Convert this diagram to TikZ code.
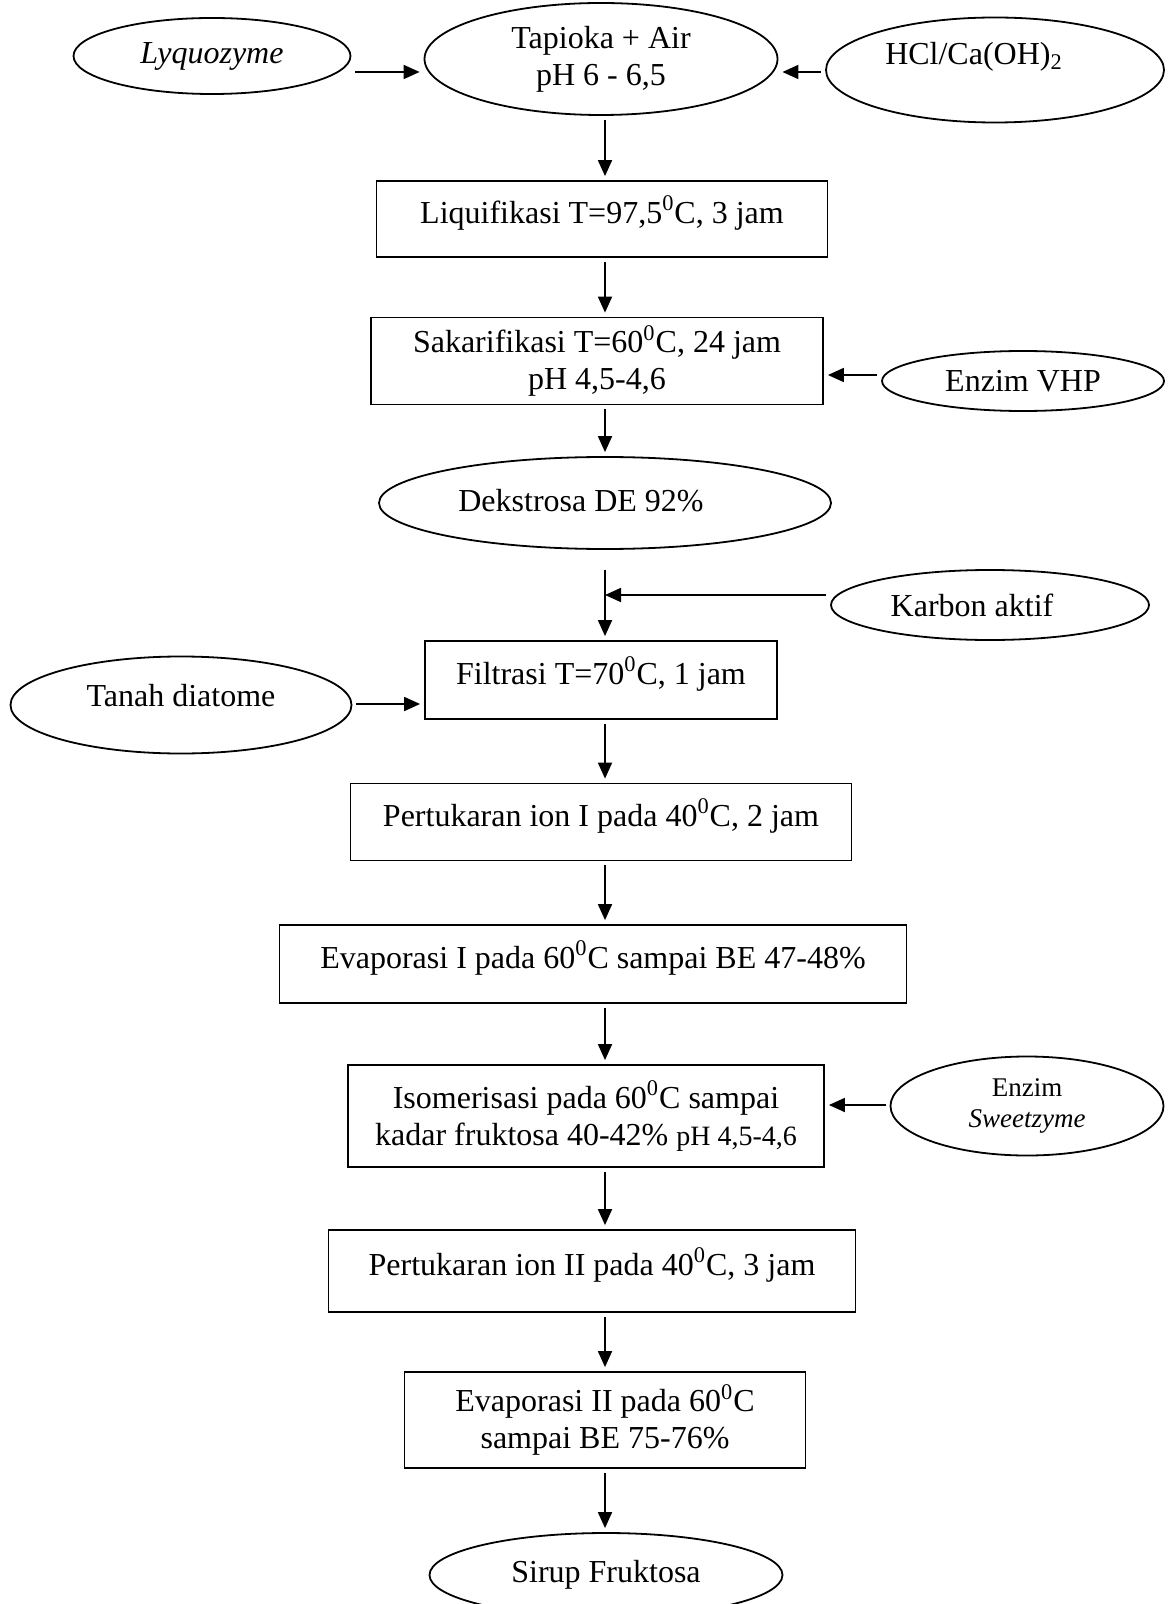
\documentclass[tikz,border=0pt]{standalone}
\usepackage{fontspec}
\setmainfont{Liberation Serif}
\usetikzlibrary{arrows.meta, shapes.geometric}
\newcommand{\teks}{\fontsize{16}{18.5}\selectfont}
\newcommand{\kecil}{\fontsize{13.5}{15.3}\selectfont}
\newcommand{\dc}{\textsuperscript{0}C}

\begin{document}
\begin{tikzpicture}[
  x=0.5pt, y=-0.5pt,
  every node/.style={font=\teks},
  proses/.style={rectangle, draw, line width=0.9pt, align=center, inner sep=2pt},
  satu/.style={proses, text depth=9.5pt},
  bahan/.style={ellipse, draw, line width=0.9pt, align=center, inner sep=1pt},
  alir/.style={-{Triangle[length=8pt, width=7pt]}, line width=0.9pt, shorten <=2pt, shorten >=2pt}
]
\useasboundingbox (0,0) rectangle (1167,1604);

% bahan masuk
\node[bahan, minimum width=138.5pt, minimum height=38pt] (lyq) at (212,56) {\textit{Lyquozyme}};
\node[bahan, minimum width=176.5pt, minimum height=56pt] (tap) at (601,59) {Tapioka + Air\\pH 6 - 6,5};
\node[bahan, minimum width=169pt, minimum height=52.5pt,
      label={[xshift=-10.5pt, yshift=6.5pt]center:HCl/Ca(OH)\textsubscript{2}}] (hcl) at (995,70) {};

% proses utama
\node[satu, minimum width=225.5pt, minimum height=38pt] (liq) at (602,219) {Liquifikasi T=97,5\dc, 3 jam};
\node[proses, minimum width=226pt, minimum height=43.5pt] (sak) at (597,361) {Sakarifikasi T=60\dc, 24 jam\\pH 4,5-4,6};
\node[bahan, minimum width=141pt, minimum height=30pt] (vhp) at (1023,381) {Enzim VHP};
\node[bahan, minimum width=226pt, minimum height=46pt,
      label={[xshift=-12pt, yshift=1pt]center:Dekstrosa DE 92\%}] (dek) at (605,503) {};
\node[bahan, minimum width=159pt, minimum height=35pt,
      label={[xshift=-9pt]center:Karbon aktif}] (karb) at (990,605) {};
\node[satu, minimum width=176pt, minimum height=39pt] (fil) at (601,680) {Filtrasi T=70\dc, 1 jam};
\node[bahan, minimum width=170.5pt, minimum height=48.5pt,
      label={[yshift=4.5pt]center:Tanah diatome}] (tanah) at (181,705) {};
\node[satu, minimum width=250.5pt, minimum height=38.5pt] (pt1) at (601,822) {Pertukaran ion I pada 40\dc, 2 jam};
\node[satu, minimum width=313.5pt, minimum height=39pt] (ev1) at (593,964) {Evaporasi I pada 60\dc\ sampai BE 47-48\%};
\node[proses, minimum width=238pt, minimum height=51pt] (iso) at (586,1116)
  {Isomerisasi pada 60\dc\ sampai\\kadar fruktosa 40-42\% {\fontsize{14}{18.5}\selectfont pH 4,5-4,6}};
\node[bahan, minimum width=136.5pt, minimum height=49.5pt, font=\kecil] (sweet) at (1027,1106) {Enzim\\\textit{Sweetzyme}};
\node[satu, minimum width=263.5pt, minimum height=41pt] (pt2) at (592,1271) {Pertukaran ion II pada 40\dc, 3 jam};
\node[proses, minimum width=200.5pt, minimum height=48pt] (ev2) at (605,1420) {Evaporasi II pada 60\dc\\sampai BE 75-76\%};
\node[bahan, minimum width=176.5pt, minimum height=42pt] (sirup) at (606,1575) {Sirup Fruktosa};

% garis alir
\coordinate (axis) at (605,0);
\coordinate (cin) at ([yshift=-10pt]dek.south);

\draw[alir] (lyq.east |- 0,72) -- (tap.west |- 0,72);
\draw[alir] (hcl.west |- 0,72) -- (tap.east |- 0,72);
\draw[alir] (axis |- tap.south) -- (axis |- liq.north);
\draw[alir] (axis |- liq.south) -- (axis |- sak.north);
\draw[alir] (vhp.west |- 0,375) -- (sak.east |- 0,375);
\draw[alir] (axis |- sak.south) -- (axis |- dek.north);
\draw[alir, shorten <=0pt] (cin) -- (cin |- fil.north);
\draw[alir, shorten >=0pt] (karb.west |- 0,595) -- (cin |- 0,595);
\draw[alir] (tanah.east |- 0,704) -- (fil.west |- 0,704);
\draw[alir] (axis |- fil.south) -- (axis |- pt1.north);
\draw[alir] (axis |- pt1.south) -- (axis |- ev1.north);
\draw[alir] (axis |- ev1.south) -- (axis |- iso.north);
\draw[alir] (sweet.west |- 0,1105) -- (iso.east |- 0,1105);
\draw[alir] (axis |- iso.south) -- (axis |- pt2.north);
\draw[alir] (axis |- pt2.south) -- (axis |- ev2.north);
\draw[alir] (axis |- ev2.south) -- (axis |- sirup.north);
\end{tikzpicture}
\end{document}
